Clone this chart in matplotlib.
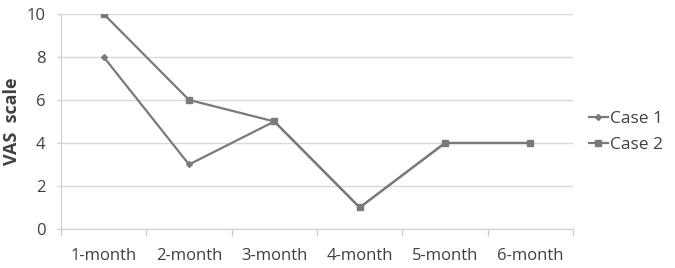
import numpy as np
import matplotlib
matplotlib.use('Agg')
import matplotlib.pyplot as plt

months = ['1-month', '2-month', '3-month', '4-month', '5-month', '6-month']
case1 = [8, 3, 5, 1, 4, 4]
case2 = [10, 6, 5, 1, 4, 4]
yticks = [0, 2, 4, 6, 8, 10]

plt.rcParams['font.family'] = ['Open Sans', 'DejaVu Sans']

fig = plt.figure(figsize=(6.75, 2.68), dpi=100)
ax = fig.add_axes([0.0904, 0.1455, 0.7585, 0.8025])

x = np.arange(len(months))
line_col = '#7a7a7a'
ax.plot(x, case1, color=line_col, lw=1.6, marker='D', ms=3, label='Case 1', zorder=3)
ax.plot(x, case2, color=line_col, lw=1.6, marker='s', ms=4.5, label='Case 2', zorder=4)

ax.set_xlim(-0.5, len(months) - 0.5)
ax.set_ylim(0, 10)
ax.set_yticks(yticks)
ax.set_xticks(x)
ax.set_xticklabels(months)
ax.set_xticks(np.arange(len(months) + 1) - 0.5, minor=True)
ax.tick_params(axis='x', which='major', length=0, pad=14, labelsize=12, colors='#404040')
ax.tick_params(axis='x', which='minor', length=5, color='#d0d0d0', width=1)
ax.tick_params(axis='y', length=3, color='#d0d0d0', width=1, pad=8, labelsize=12, colors='#404040')
ax.grid(axis='y', color='#d9d9d9', lw=1)
ax.set_axisbelow(True)
for s in ['top', 'right']:
    ax.spines[s].set_visible(False)
for s in ['left', 'bottom']:
    ax.spines[s].set_color('#d0d0d0')
ax.set_ylabel('VAS  scale', fontsize=13, fontweight='bold', color='#404040', labelpad=4)

leg = ax.legend(loc='center left', bbox_to_anchor=(1.0, 0.45), frameon=False,
                fontsize=12.5, handlelength=1.1, handletextpad=0.15, labelspacing=0.55,
                labelcolor='#404040')

fig.savefig('out.png', dpi=100)
